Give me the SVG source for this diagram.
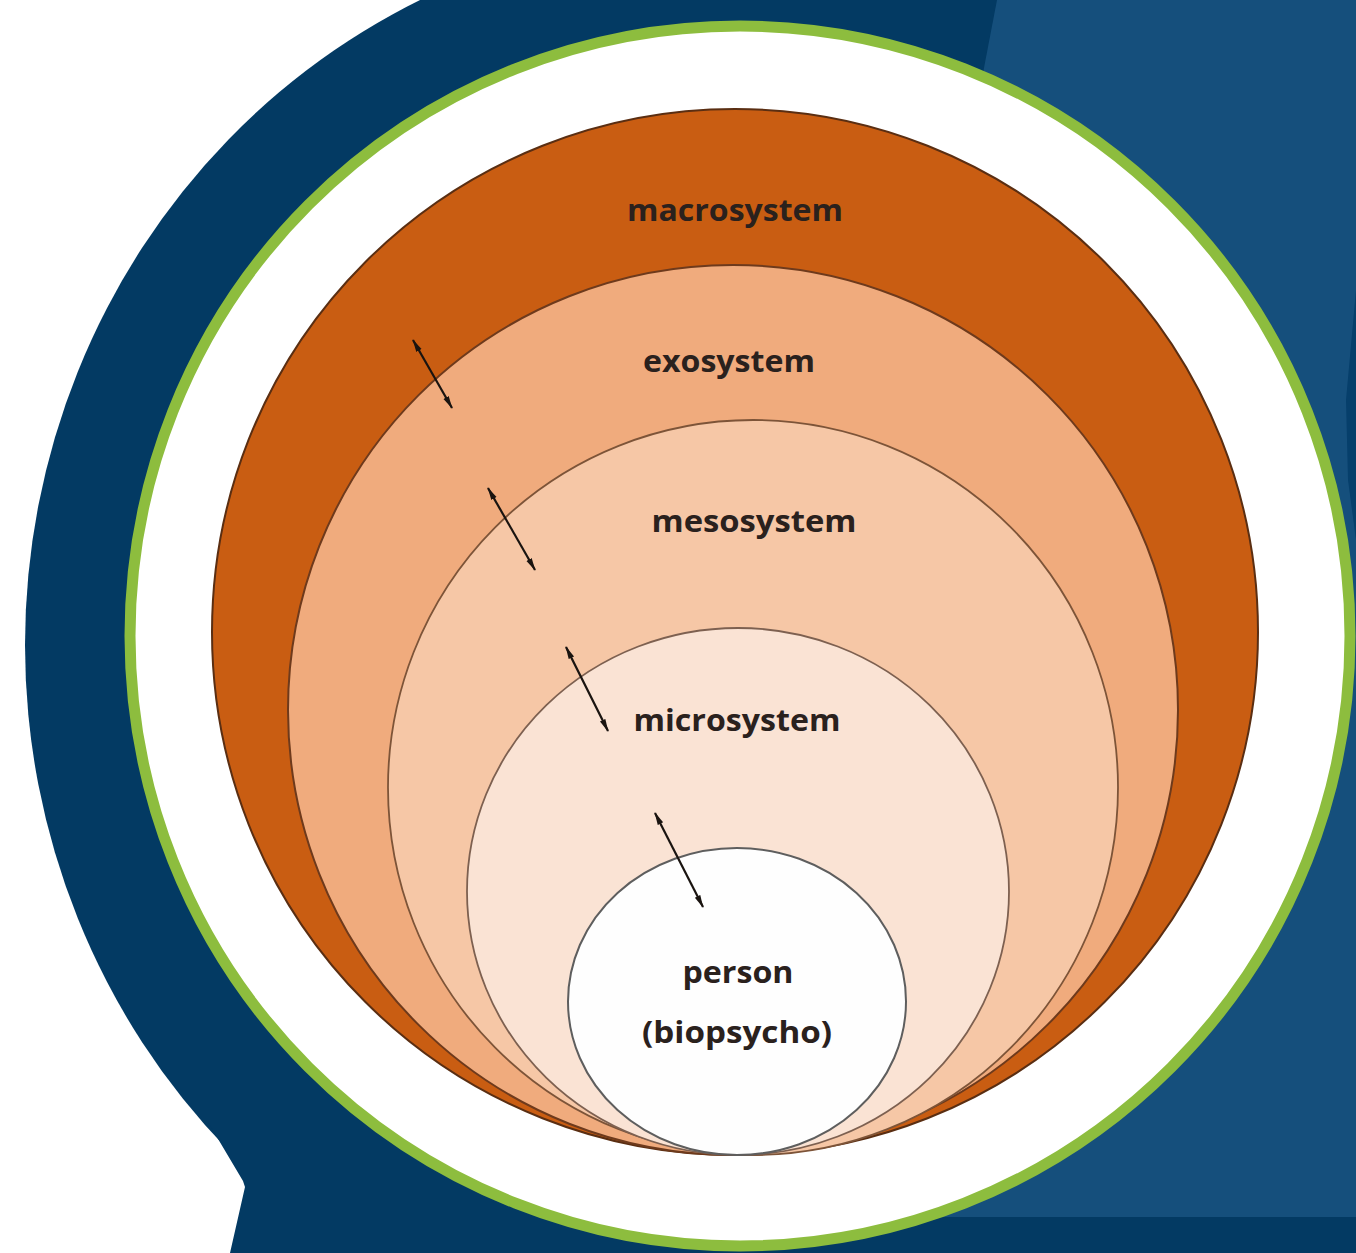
<svg xmlns="http://www.w3.org/2000/svg" width="1356" height="1253" viewBox="0 0 1356 1253">
  <style>
    .lbl { font-family: "Open Sans", "Liberation Sans", sans-serif; font-weight: 700; font-size: 30px; fill: #2a211d; text-anchor: middle; }
    .arr { stroke: #1a1410; stroke-width: 2.2; fill: none; marker-start: url(#head); marker-end: url(#head); }
  </style>
  <defs>
    <marker id="head" viewBox="0 0 13 8" refX="12" refY="4" markerWidth="13" markerHeight="8" markerUnits="userSpaceOnUse" orient="auto-start-reverse">
      <path d="M0,1 L13,4 L0,7 Z" fill="#1a1410"/>
    </marker>
  </defs>

  <g id="background">
    <rect x="0" y="0" width="1356" height="1253" fill="#ffffff"/>
    <ellipse cx="720" cy="645" rx="695" ry="715" fill="#033a63"/>
    <polygon points="208,1122 600,1122 1356,1100 1356,1253 230,1253 245,1187 243,1181" fill="#033a63"/>
    <polygon points="997,0 1356,0 1356,1217 764,1217" fill="#154f7c"/>
    <polygon points="1356,290 1346,400 1348,480 1356,540" fill="#063f6b"/>
  </g>

  <g id="frame">
    <circle cx="740" cy="636" r="610" fill="#ffffff" stroke="#8dbd3e" stroke-width="11"/>
  </g>

  <g id="macrosystem">
    <ellipse cx="735" cy="632" rx="523" ry="523" fill="#c95d12" stroke="#5a2e12" stroke-width="2"/>
    <text class="lbl" x="735" y="221" textLength="216" lengthAdjust="spacingAndGlyphs">macrosystem</text>
  </g>

  <g id="exosystem">
    <ellipse cx="733" cy="710" rx="445" ry="445" fill="#f0ab7d" stroke="#6e3a1c" stroke-width="2"/>
    <text class="lbl" x="729" y="372" textLength="172" lengthAdjust="spacingAndGlyphs">exosystem</text>
  </g>

  <g id="mesosystem">
    <ellipse cx="753" cy="787.5" rx="365" ry="367.5" fill="#f6c7a6" stroke="#7d5438" stroke-width="1.8"/>
    <text class="lbl" x="754" y="532" textLength="205" lengthAdjust="spacingAndGlyphs">mesosystem</text>
  </g>

  <g id="microsystem">
    <ellipse cx="738" cy="891.5" rx="271" ry="263.5" fill="#fae3d4" stroke="#7d6050" stroke-width="1.8"/>
    <text class="lbl" x="737" y="731" textLength="207" lengthAdjust="spacingAndGlyphs">microsystem</text>
  </g>

  <g id="person">
    <ellipse cx="737" cy="1001.5" rx="169" ry="153.5" fill="#fefefe" stroke="#5e5e5e" stroke-width="2"/>
    <text class="lbl" x="738" y="983" textLength="111" lengthAdjust="spacingAndGlyphs">person</text>
    <text class="lbl" x="737" y="1043" textLength="190" lengthAdjust="spacingAndGlyphs">(biopsycho)</text>
  </g>

  <g id="connectors">
    <line class="arr" x1="413" y1="340" x2="452" y2="408"/>
    <line class="arr" x1="488" y1="488" x2="535" y2="570"/>
    <line class="arr" x1="566" y1="647" x2="608" y2="731"/>
    <line class="arr" x1="655" y1="813" x2="703" y2="907"/>
  </g>
</svg>
